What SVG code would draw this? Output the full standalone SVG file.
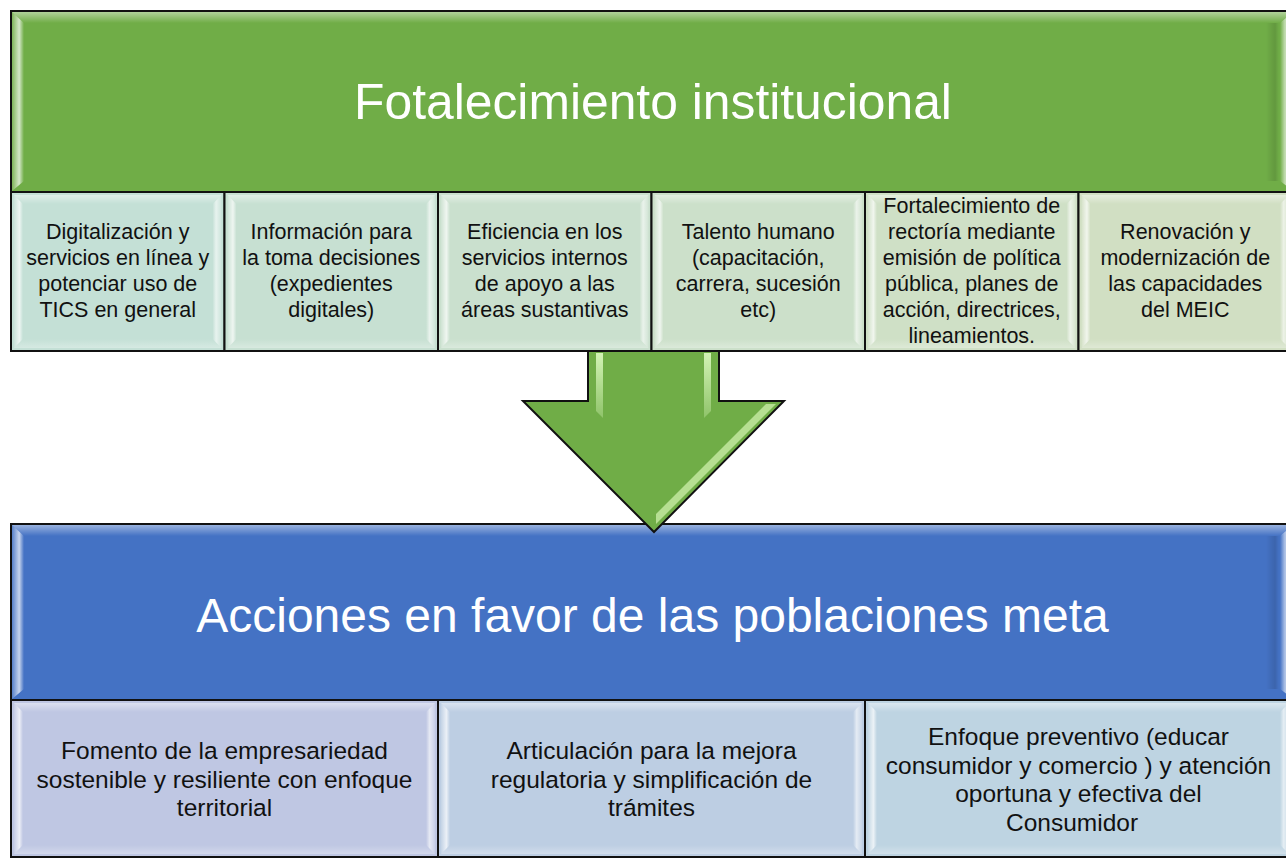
<svg xmlns="http://www.w3.org/2000/svg" width="1286" height="861" viewBox="0 0 1286 861">
<defs>
<style>
.frame{stroke:#111;stroke-width:2;}
.tt{font-family:"Liberation Sans",Arial,sans-serif;fill:#fff;text-anchor:middle;}
.st{font-family:"Liberation Sans",Arial,sans-serif;fill:#111;text-anchor:middle;font-size:21.5px;}
.bt{font-family:"Liberation Sans",Arial,sans-serif;fill:#111;text-anchor:middle;font-size:24.5px;}
.green{fill:#70AD47;}
.blue{fill:#4472C4;}
</style>
<linearGradient id="hiL" x1="0" y1="0" x2="1" y2="0">
<stop offset="0" stop-color="#fff" stop-opacity="0.1"/>
<stop offset="0.6" stop-color="#fff" stop-opacity="0.7"/>
<stop offset="1" stop-color="#fff" stop-opacity="0"/>
</linearGradient>
<linearGradient id="hiR" x1="0" y1="0" x2="1" y2="0">
<stop offset="0" stop-color="#fff" stop-opacity="0"/>
<stop offset="0.4" stop-color="#fff" stop-opacity="0.6"/>
<stop offset="1" stop-color="#fff" stop-opacity="0.15"/>
</linearGradient>
<linearGradient id="hiT" x1="0" y1="0" x2="0" y2="1">
<stop offset="0" stop-color="#fff" stop-opacity="0.45"/>
<stop offset="1" stop-color="#fff" stop-opacity="0"/>
</linearGradient>
<linearGradient id="hiB" x1="0" y1="0" x2="0" y2="1">
<stop offset="0" stop-color="#fff" stop-opacity="0"/>
<stop offset="1" stop-color="#fff" stop-opacity="0.3"/>
</linearGradient>
<linearGradient id="shR" x1="0" y1="0" x2="1" y2="0">
<stop offset="0" stop-color="#000" stop-opacity="0"/>
<stop offset="0.7" stop-color="#000" stop-opacity="0.12"/>
<stop offset="1" stop-color="#000" stop-opacity="0"/>
</linearGradient>
<linearGradient id="shaftHi" x1="0" y1="0" x2="0" y2="1">
<stop offset="0" stop-color="#d8f7bb" stop-opacity="0.95"/>
<stop offset="1" stop-color="#d8f7bb" stop-opacity="0.3"/>
</linearGradient>
<g id="bevS">
<polygon points="3,3 12,12 12,147 3,156" fill="url(#hiL)"/>
<polygon points="201.5,12 210.5,3 210.5,156 201.5,147" fill="url(#hiR)"/>
<polygon points="3,3 210.5,3 201.5,12 12,12" fill="url(#hiT)"/>
<polygon points="12,147 201.5,147 210.5,156 3,156" fill="url(#hiB)"/>
</g>
<g id="bevW">
<polygon points="3,3 12,12 12,145 3,154" fill="url(#hiL)"/>
<polygon points="415,12 424,3 424,154 415,145" fill="url(#hiR)"/>
<polygon points="3,3 424,3 415,12 12,12" fill="url(#hiT)"/>
<polygon points="12,145 415,145 424,154 3,154" fill="url(#hiB)"/>
</g>
</defs>
<rect x="0" y="0" width="1286" height="861" fill="#fff"/>

<g id="node-header-green">
<rect x="11" y="11" width="1283" height="181" class="green frame"/>
<polygon points="12,12 1293,12 1281,23 24,23" fill="url(#hiT)"/>
<polygon points="12,12 24,23 24,181 12,191" fill="url(#hiL)"/>
<rect x="1266" y="23" width="13" height="158" fill="url(#shR)"/>
<polygon points="1280,23 1293,12 1293,191 1280,181" fill="url(#hiR)"/>
<text class="tt" x="653" y="119" font-size="49.8">Fotalecimiento institucional</text>
</g>

<g id="node-t1">
<rect x="11" y="192" width="213.5" height="159" fill="#C4E0D6" class="frame"/>
<use href="#bevS" x="11" y="192"/>
<text class="st"><tspan x="117.75" y="238.5">Digitalización y</tspan><tspan x="117.75" y="264.5">servicios en línea y</tspan><tspan x="117.75" y="290.5">potenciar uso de</tspan><tspan x="117.75" y="316.5">TICS en general</tspan></text>
</g>
<g id="node-t2">
<rect x="224.5" y="192" width="213.5" height="159" fill="#C7E0D2" class="frame"/>
<use href="#bevS" x="224.5" y="192"/>
<text class="st"><tspan x="331.25" y="238.5">Información para</tspan><tspan x="331.25" y="264.5">la toma decisiones</tspan><tspan x="331.25" y="290.5">(expedientes</tspan><tspan x="331.25" y="316.5">digitales)</tspan></text>
</g>
<g id="node-t3">
<rect x="438" y="192" width="213.5" height="159" fill="#CAE0CE" class="frame"/>
<use href="#bevS" x="438" y="192"/>
<text class="st"><tspan x="544.75" y="238.5">Eficiencia en los</tspan><tspan x="544.75" y="264.5">servicios internos</tspan><tspan x="544.75" y="290.5">de apoyo a las</tspan><tspan x="544.75" y="316.5">áreas sustantivas</tspan></text>
</g>
<g id="node-t4">
<rect x="651.5" y="192" width="213.5" height="159" fill="#CCE0CA" class="frame"/>
<use href="#bevS" x="651.5" y="192"/>
<text class="st"><tspan x="758.25" y="238.5">Talento humano</tspan><tspan x="758.25" y="264.5">(capacitación,</tspan><tspan x="758.25" y="290.5">carrera, sucesión</tspan><tspan x="758.25" y="316.5">etc)</tspan></text>
</g>
<g id="node-t5">
<rect x="865" y="192" width="213.5" height="159" fill="#CFE0C6" class="frame"/>
<use href="#bevS" x="865" y="192"/>
<text class="st"><tspan x="971.75" y="212.5">Fortalecimiento de</tspan><tspan x="971.75" y="238.5">rectoría mediante</tspan><tspan x="971.75" y="264.5">emisión de política</tspan><tspan x="971.75" y="290.5">pública, planes de</tspan><tspan x="971.75" y="316.5">acción, directrices,</tspan><tspan x="971.75" y="342.5">lineamientos.</tspan></text>
</g>
<g id="node-t6">
<rect x="1078.5" y="192" width="213.5" height="159" fill="#D1DFC3" class="frame"/>
<use href="#bevS" x="1078.5" y="192"/>
<text class="st"><tspan x="1185.25" y="238.5">Renovación y</tspan><tspan x="1185.25" y="264.5">modernización de</tspan><tspan x="1185.25" y="290.5">las capacidades</tspan><tspan x="1185.25" y="316.5">del MEIC</tspan></text>
</g>

<g id="node-header-blue">
<rect x="11" y="524" width="1283" height="176" class="blue frame"/>
<polygon points="12,525 1293,525 1281,536 24,536" fill="url(#hiT)"/>
<polygon points="12,525 24,536 24,689 12,699" fill="url(#hiL)"/>
<rect x="1266" y="536" width="13" height="153" fill="url(#shR)"/>
<polygon points="1280,536 1293,525 1293,699 1280,689" fill="url(#hiR)"/>
<text class="tt" x="652.5" y="632" font-size="48">Acciones en favor de las poblaciones meta</text>
</g>

<g id="node-b1">
<rect x="11" y="700" width="427" height="157" fill="#BFC7E3" class="frame"/>
<use href="#bevW" x="11" y="700"/>
<text class="bt"><tspan x="224.5" y="759">Fomento de la empresariedad</tspan><tspan x="224.5" y="787.5">sostenible y resiliente con enfoque</tspan><tspan x="224.5" y="816">territorial</tspan></text>
</g>
<g id="node-b2">
<rect x="438" y="700" width="427" height="157" fill="#BDCEE3" class="frame"/>
<use href="#bevW" x="438" y="700"/>
<text class="bt"><tspan x="651.5" y="759">Articulación para la mejora</tspan><tspan x="651.5" y="787.5">regulatoria y simplificación de</tspan><tspan x="651.5" y="816">trámites</tspan></text>
</g>
<g id="node-b3">
<rect x="865" y="700" width="427" height="157" fill="#BED4E2" class="frame"/>
<use href="#bevW" x="865" y="700"/>
<text class="bt"><tspan x="1078.5" y="744.5">Enfoque preventivo (educar</tspan><tspan x="1078.5" y="773.5">consumidor y comercio ) y atención</tspan><tspan x="1078.5" y="802">oportuna y efectiva del</tspan><tspan x="1072" y="830.5">Consumidor</tspan></text>
</g>

<g id="connectors">
<polygon points="588,352 719,352 719,401 784,401 654,532 523,401 588,401" class="green"/>
<path d="M588,352 L588,401 L523,401 L654,532 L784,401 L719,401 L719,352" fill="none" stroke="#111" stroke-width="2" stroke-linejoin="miter"/>
<polygon points="596,353 603,353 603,418 596,411" fill="url(#shaftHi)"/>
<polygon points="704,353 711,353 711,411 704,418" fill="url(#shaftHi)"/>
<polygon points="776,404 766,404 656,514 656,524" fill="#cdf0ab" opacity="0.75"/>
</g>
</svg>
